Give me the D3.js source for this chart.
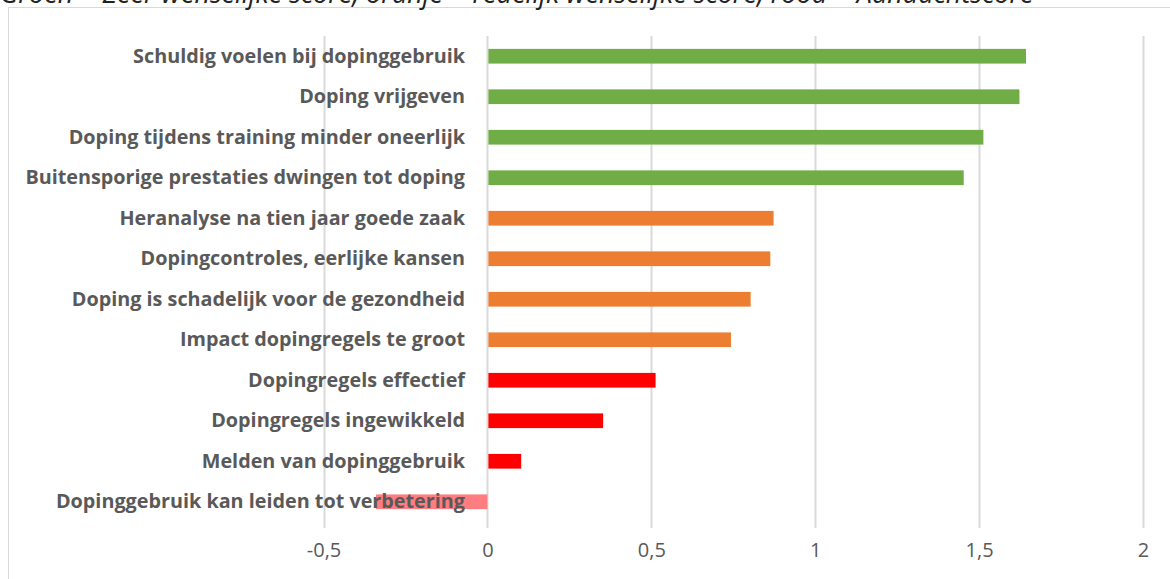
<!DOCTYPE html>
<html>
<head>
<meta charset="utf-8">
<script src="https://cdn.jsdelivr.net/npm/d3@7"></script>
<style>
  body { margin: 0; background: #fff; }
  svg { display: block; }
</style>
</head>
<body>
<svg width="1170" height="579"></svg>
<script>
// data
var labels = [
  "Schuldig voelen bij dopinggebruik",
  "Doping vrijgeven",
  "Doping tijdens training minder oneerlijk",
  "Buitensporige prestaties dwingen tot doping",
  "Heranalyse na tien jaar goede zaak",
  "Dopingcontroles, eerlijke kansen",
  "Doping is schadelijk voor de gezondheid",
  "Impact dopingregels te groot",
  "Dopingregels effectief",
  "Dopingregels ingewikkeld",
  "Melden van dopinggebruik",
  "Dopinggebruik kan leiden tot verbetering"
];
var scores = [1.64, 1.62, 1.51, 1.45, 0.87, 0.86, 0.80, 0.74, 0.51, 0.35, 0.10, -0.34];
var groups = ["groen", "groen", "groen", "groen", "oranje", "oranje", "oranje", "oranje", "rood", "rood", "rood", "roodlicht"];
var xTicks = [-0.5, 0, 0.5, 1, 1.5, 2];
var caption = "Groen = Zeer wenselijke score, oranje = redelijk wenselijke score, rood = Aandachtscore";

var kleur = {groen: "#70AD47", oranje: "#ED7D31", rood: "#FF0000", roodlicht: "#FF7C80"};

var svg = d3.select("svg");

// kader van de grafiek
svg.append("rect")
  .attr("x", 8.5).attr("y", 7.5)
  .attr("width", 1175).attr("height", 590)
  .attr("fill", "none")
  .attr("stroke", "#D9D9D9");

// bijschrift, bovenaan afgesneden zoals in het origineel
svg.append("text")
  .attr("x", 0).attr("y", 3)
  .style("font-family", "'Open Sans', sans-serif")
  .style("font-style", "italic")
  .style("font-size", "27px")
  .attr("fill", "#222")
  .text(caption);

var x = d3.scaleLinear().domain([-0.5, 2]).range([323.5, 1143]);
var y = d3.scaleBand().domain(labels).range([36, 522]).paddingInner(0.637).paddingOuter(0.318);

// rasterlijnen
svg.append("g")
  .selectAll("line")
  .data(xTicks)
  .enter()
  .append("line")
    .attr("x1", function(d) { return Math.round(x(d)) + 0.5; })
    .attr("x2", function(d) { return Math.round(x(d)) + 0.5; })
    .attr("y1", 36)
    .attr("y2", 528)
    .attr("stroke", "#D9D9D9")
    .attr("stroke-width", 2);

// balken
svg.append("g")
  .selectAll("rect")
  .data(labels)
  .enter()
  .append("rect")
    .attr("x", function(d, i) { return scores[i] < 0 ? x(scores[i]) : x(0) + 1; })
    .attr("y", function(d) { return y(d); })
    .attr("width", function(d, i) { return Math.abs(x(scores[i]) - x(0)); })
    .attr("height", y.bandwidth())
    .attr("fill", function(d, i) { return kleur[groups[i]]; });

// categorielabels
svg.append("g")
  .selectAll("text")
  .data(labels)
  .enter()
  .append("text")
    .attr("x", 465)
    .attr("y", function(d) { return y(d) + y.bandwidth() / 2 + 6.5; })
    .attr("text-anchor", "end")
    .style("font-family", "'Open Sans', sans-serif")
    .style("font-weight", "bold")
    .style("font-size", "19.8px")
    .attr("fill", "#595959")
    .text(function(d) { return d; });

// x-as
var xAxis = d3.axisBottom(x)
  .tickValues(xTicks)
  .tickSize(0)
  .tickPadding(0)
  .tickFormat(function(d) { return String(d).replace(".", ","); });

var ax = svg.append("g")
  .attr("transform", "translate(0,543)")
  .call(xAxis);
ax.select(".domain").remove();
ax.selectAll("text")
  .style("font-family", "'Open Sans', sans-serif")
  .style("font-size", "20px")
  .attr("fill", "#595959");
</script>
</body>
</html>
